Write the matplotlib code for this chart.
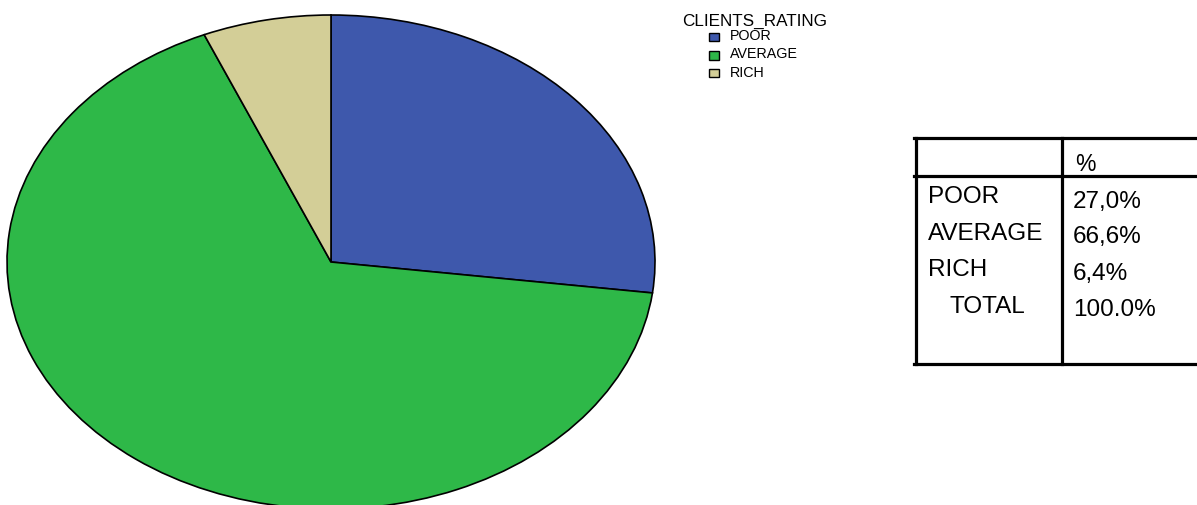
import matplotlib.pyplot as plt
from matplotlib.patches import Rectangle
from matplotlib.lines import Line2D

plt.rcParams['font.family'] = ['Liberation Sans', 'DejaVu Sans']

categories = ['POOR', 'AVERAGE', 'RICH']
percents = [27.0, 66.6, 6.4]
colors = ['#3E58AC', '#2EB848', '#D3CE97']
legend_title = 'CLIENTS_RATING'
table_header = '%'
total_label = 'TOTAL'
total_value = '100.0%'

W, H = 1197, 505
fig = plt.figure(figsize=(W / 100, H / 100), dpi=100)


def fx(px):
    return px / W


def fy(py):
    return 1 - py / H


# pie stretched into an ellipse (aspect left on auto)
ax = fig.add_axes([fx(7), fy(509), fx(655) - fx(7), fy(15) - fy(509)])
ax.pie(percents, colors=colors, startangle=90, counterclock=False,
       wedgeprops=dict(edgecolor='black', linewidth=1.2))
ax.set_aspect('auto')
ax.set_xlim(-1, 1)
ax.set_ylim(-1, 1)
ax.axis('off')

# legend
fig.text(fx(682), fy(26), legend_title, fontsize=12.3, va='baseline', ha='left')
leg_y = [37, 55.5, 73]
leg_base = [40.5, 58.5, 77]
for name, c, yc, yb in zip(categories, colors, leg_y, leg_base):
    fig.patches.append(Rectangle((fx(709), fy(yc + 4)), fx(10), fy(yc - 4) - fy(yc + 4),
                                 facecolor=c, edgecolor='black', linewidth=1.0,
                                 transform=fig.transFigure, figure=fig))
    fig.text(fx(730), fy(yb), name, fontsize=10.3, va='baseline', ha='left')

# table
lw = 2.3
for y in [138, 175.5, 363.5]:
    fig.lines.append(Line2D([fx(914), 1.0], [fy(y), fy(y)], color='black', linewidth=lw,
                            transform=fig.transFigure, figure=fig))
for x in [915.5, 1061.5]:
    fig.lines.append(Line2D([fx(x), fx(x)], [fy(138), fy(363.5)], color='black', linewidth=lw,
                            transform=fig.transFigure, figure=fig))

fs = 17.5
fig.text(fx(1075), fy(171), table_header, fontsize=fs - 1, va='baseline', ha='left')
label_base = [203, 240.5, 276.5]
value_base = [208, 243.5, 280]
for name, p, lb, vb in zip(categories, percents, label_base, value_base):
    fig.text(fx(928), fy(lb), name, fontsize=fs, va='baseline', ha='left')
    fig.text(fx(1073), fy(vb), f'{p:.1f}%'.replace('.', ','), fontsize=fs,
             va='baseline', ha='left')
fig.text(fx(950), fy(313), total_label, fontsize=fs, va='baseline', ha='left')
fig.text(fx(1073), fy(316.5), total_value, fontsize=fs, va='baseline', ha='left')

fig.savefig('out.png', dpi=100)
